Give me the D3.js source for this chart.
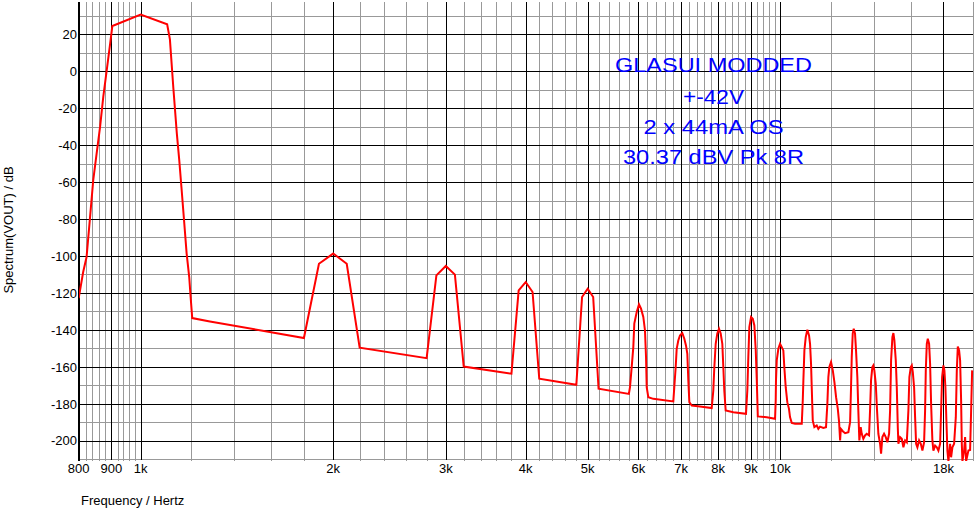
<!DOCTYPE html>
<html><head><meta charset="utf-8">
<script src="https://cdn.jsdelivr.net/npm/d3@7/dist/d3.min.js"></script>
<style>
html,body{margin:0;padding:0;background:#fff;}
svg{display:block;}
text{font-family:"Liberation Sans",Arial,sans-serif;}
</style></head><body>
<svg id="chart" width="975" height="509"></svg>
<script>
// ---- data ----
const freqHz = [
 800,813,823,833,843,854,864,874,885,896,903,1000,1100,1111,1125,1139,1149,1158,1169,1180,1191,1197,1204,1283,1800,
 1900,2000,2100,2200,2800,
 2900,3000,3100,3200,3800,
 3900,4000,4100,4200,4800,
 4900,5000,5100,5200,5800,
 5823,5859,5893,5914,5966,6015,6059,6109,6146,6169,6184,6220,6333,6806,
 6830,6864,6889,6929,6971,7029,7081,7123,7158,7184,7210,7273,7493,7815,
 7860,7889,7928,7974,8023,8072,8119,8149,8177,8218,8447,8842,
 8884,8916,8949,9004,9060,9112,9158,9192,9226,9528,9817,
 9840,9850,9877,9934,9995,10056,10114,10150,10201,10260,10322,10360,10424,10549,10808,
 10847,10871,10911,10964,11027,11095,11135,11175,11203,11244,11309,11406,11472,11543,11680,11794,
 11851,11894,11936,12010,12085,12156,12229,12305,12363,12408,12440,12529,12633,12783,12862,
 12906,12939,12985,13032,13093,13140,13202,13249,13297,13364,13413,13490,13573,13657,13770,
 13820,13870,13935,13985,14036,14107,14173,14240,14328,14380,14447,14536,14625,14710,14800,
 14854,14908,14978,15032,15086,15162,15217,15272,15305,15399,15493,15583,15679,15775,
 15866,15923,16004,16062,16120,16196,16254,16313,16389,16490,16591,16687,16789,
 16850,16892,16953,17014,17094,17156,17218,17298,17361,17468,17575,17677,17786,
 17850,17914,17998,18063,18128,18193,18259,18325,18438,18504,18591,18705,
 18820,18888,18956,19045,19114,19183,19231,19273,19391,19461,19531,19694,19815,19887,19959
];
const spectrumDb = [
 -122.8,-108.7,-100.6,-79.8,-59,-43.7,-30.2,-13.9,0.5,15,24.4,30.6,25.3,17.2,-9.4,-33.7,-48.2,-62.7,-80.7,-98.7,-111.4,-122.2,-133.6,-135.4,-144.4,
 -104.2,-98.7,-104.2,-149.6,-155.3,
 -110.5,-105.4,-110.1,-159.8,-163.7,
 -118.6,-114.1,-119.5,-166.4,-169.7,
 -122.2,-117.7,-122.2,-171.8,-174.6,
 -171,-160,-149.3,-136.6,-130.3,-126.2,-128.5,-133,-140.3,-154.7,-171,-176.4,-177.3,-178.7,
 -171,-160.2,-150.2,-145.7,-143,-141.7,-144.8,-148.4,-152.9,-167.3,-179.1,-180.9,-181.4,-182.3,
 -172.8,-160.2,-147.5,-142,-139.4,-142,-147.5,-160.2,-172.8,-183.6,-184.5,-185.4,
 -172.8,-154.7,-138.5,-133.1,-134,-137.6,-151.1,-167.3,-186.8,-187.2,-188.1,
 -178.2,-167.3,-156.5,-150.2,-147.5,-149.3,-151.1,-160.2,-171,-179.1,-182.7,-187.2,-190.3,-190.8,-190.8,
 -178.2,-167.3,-151.1,-143.9,-139.9,-143,-147.5,-158.3,-171,-189,-192.6,-191.7,-193.5,-192.3,-193,-192.6,
 -180,-165.5,-160.1,-157.4,-161.9,-168.3,-176.4,-182.7,-189.9,-199.8,-193.5,-194.8,-195.9,-195.3,-189.9,
 -171,-154.7,-142,-139.4,-142,-151.1,-165.5,-183.6,-199.8,-192.6,-196.2,-198.9,-197.1,-196.2,-197.1,
 -183.6,-167.3,-160.1,-159.2,-161.9,-169.1,-183.6,-196.2,-201.6,-207,-198,-196.2,-198,-200.8,-196.2,
 -183.6,-156.5,-143.9,-141.7,-145.7,-156.5,-171,-192.6,-201.6,-198,-198.9,-203.5,-199.8,-200.8,
 -183.6,-165.5,-160.1,-159.2,-162.8,-171,-187.2,-201.6,-203.5,-199.8,-201.6,-205.3,-200.8,
 -183.6,-161.9,-147.5,-144.8,-147.5,-158.3,-180,-199.8,-205.3,-202.6,-203.5,-205.3,-201.6,
 -183.6,-165.5,-159.2,-161.9,-171,-189,-205.3,-211,-201.6,-208.9,-203.5,-201.6,
 -187.2,-161.9,-149,-151.1,-156.5,-178.2,-201.6,-211,-205.3,-198,-211,-205.3,-205,-183.6,-161.9
];
const xTickValues = [800,900,1000,2000,3000,4000,5000,6000,7000,8000,9000,10000,18000];
const xTickLabels = ["800","900","1k","2k","3k","4k","5k","6k","7k","8k","9k","10k","18k"];
const xMajorGrid = [900,1000,2000,3000,4000,5000,6000,7000,8000,9000,10000,18000];
const yTickValues = [20,0,-20,-40,-60,-80,-100,-120,-140,-160,-180,-200];
const yMinorGrid = [30,10,-10,-30,-50,-70,-90,-110,-130,-150,-170,-190,-210];
const annotationLines = ["GLASUI MODDED","+-42V","2 x 44mA OS","30.37 dBV Pk 8R"];
const annotationWidths = [197,61,140,181];
const xAxisTitle = "Frequency / Hertz";
const yAxisTitle = "Spectrum(VOUT) / dB";

// minor vertical grid frequencies
const xMinorGrid = [].concat(
  d3.range(820, 900, 20), d3.range(920, 1000, 20),
  ...d3.range(1, 10).map(k => d3.range(k*1000 + 200, (k+1)*1000, 200)),
  [12000, 14000, 16000, 20000]
);

// ---- scales ----
const x = d3.scaleLog().domain([800, 20000]).range([78.7, 972.7]);
const y = d3.scaleLinear().domain([-210, 37.5]).range([459.3, 1.8]);
const px = v => Math.round(v) + 0.5;

const svg = d3.select("#chart");
const gTop = 2, gBottom = 461, gLeft = 79, gRight = 973;

// grid
const g = svg.append("g").attr("shape-rendering", "crispEdges");
g.selectAll("line.hmin").data(yMinorGrid).join("line")
  .attr("x1", gLeft).attr("x2", gRight)
  .attr("y1", d => px(y(d))).attr("y2", d => px(y(d)))
  .attr("stroke", "#999").attr("stroke-width", 1);
g.selectAll("line.vmin").data(xMinorGrid).join("line")
  .attr("x1", d => px(x(d))).attr("x2", d => px(x(d)))
  .attr("y1", gTop).attr("y2", gBottom)
  .attr("stroke", "#999").attr("stroke-width", 1);
g.selectAll("line.hmaj").data(yTickValues).join("line")
  .attr("x1", gLeft).attr("x2", gRight)
  .attr("y1", d => px(y(d))).attr("y2", d => px(y(d)))
  .attr("stroke", "#000").attr("stroke-width", 1);
g.selectAll("line.vmaj").data(xMajorGrid).join("line")
  .attr("x1", d => px(x(d))).attr("x2", d => px(x(d)))
  .attr("y1", gTop).attr("y2", gBottom - 1)
  .attr("stroke", "#000").attr("stroke-width", 1);
// left axis (thick)
g.append("line").attr("x1", 79).attr("x2", 79).attr("y1", gTop).attr("y2", gBottom)
  .attr("stroke", "#000").attr("stroke-width", 2);

// annotation
const ann = svg.append("g");
const annBase = [72, 103.5, 133.5, 163.5];
annotationLines.forEach((t, i) => {
  ann.append("text").attr("x", 713.5).attr("y", annBase[i])
    .attr("text-anchor", "middle").attr("font-size", 20).attr("fill", "#0000ff")
    .attr("textLength", annotationWidths[i]).attr("lengthAdjust", "spacingAndGlyphs")
    .text(t);
});

// curve
svg.append("clipPath").attr("id", "clip").append("rect")
  .attr("x", 79).attr("y", 0).attr("width", 895).attr("height", 461);
const pts = freqHz.map((f, i) => [f, spectrumDb[i]]);
svg.append("path").datum(pts)
  .attr("clip-path", "url(#clip)")
  .attr("fill", "none").attr("stroke", "#ff0000").attr("stroke-width", 2)
  .attr("stroke-linejoin", "miter")
  .attr("d", d3.line().x(d => x(d[0])).y(d => y(d[1])));

// tick labels
svg.append("g").selectAll("text").data(yTickValues).join("text")
  .attr("x", 77).attr("y", d => y(d)).attr("dy", "0.36em")
  .attr("text-anchor", "end").attr("font-size", 13).attr("fill", "#000")
  .text(d => d);
svg.append("g").selectAll("text").data(xTickValues).join("text")
  .attr("x", d => x(d)).attr("y", 472.7)
  .attr("text-anchor", "middle").attr("font-size", 13).attr("fill", "#000")
  .text((d, i) => xTickLabels[i]);

// axis titles
svg.append("text").attr("x", 81).attr("y", 505).attr("font-size", 13).attr("fill", "#000")
  .text(xAxisTitle);
svg.append("text").attr("transform", "translate(13,230) rotate(-90)")
  .attr("text-anchor", "middle").attr("font-size", 13).attr("fill", "#000")
  .text(yAxisTitle);
</script>
</body></html>
